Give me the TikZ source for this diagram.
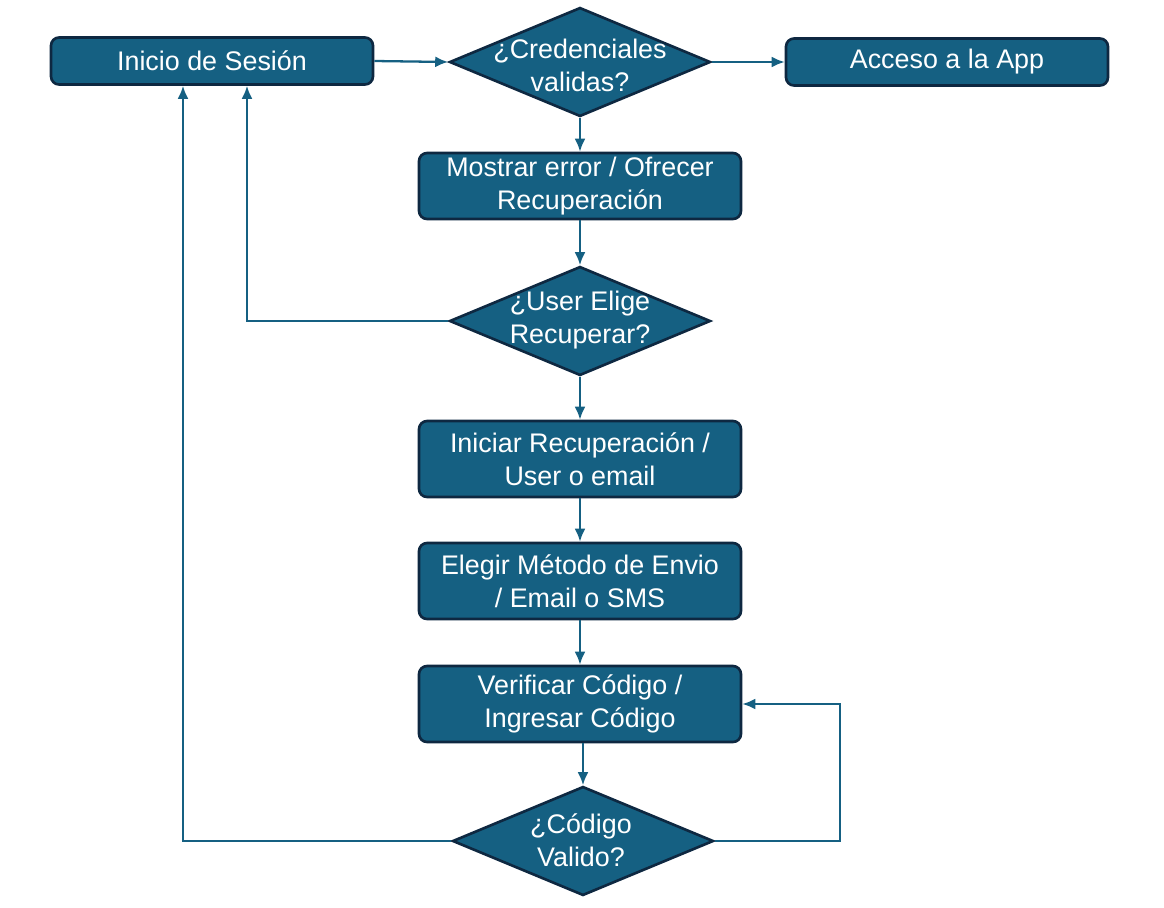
\documentclass[tikz,border=0pt]{standalone}
\usepackage{fontspec}
\setmainfont{Liberation Sans}
\usetikzlibrary{shapes.geometric,arrows.meta}
\definecolor{fillblue}{HTML}{156082}
\definecolor{edgeblue}{HTML}{0E2841}
\begin{document}
\begin{tikzpicture}[x=0.02cm,y=-0.02cm,
  box/.style={draw=edgeblue,fill=fillblue,line width=1.5pt,rounded corners=0.16cm,
    text=white,align=center,minimum width=6.44cm,inner sep=0pt,
    font=\fontsize{15.3}{18.7}\selectfont},
  decision/.style={draw=edgeblue,fill=fillblue,line width=1.5pt,diamond,
    minimum width=5.22cm,minimum height=2.18cm,inner sep=0pt},
  dtext/.style={text=white,align=center,font=\fontsize{15.3}{18.7}\selectfont},
  flow/.style={draw=fillblue,line width=1.3pt,-{Latex[length=2.6mm,width=2.2mm]}}]
\useasboundingbox (0,0) rectangle (1164,907);
% nodes
\node[box,minimum height=0.94cm] (inicio) at (212,61) {Inicio de Sesión};
\node[decision] (cred) at (580,62) {};
\node[dtext] (credtxt) at (580,65) {¿Credenciales\\validas?};
\node[box,minimum height=0.94cm] (acceso) at (947,62) {Acceso a la App};
\node[box,minimum height=1.32cm] (mostrar) at (580,186) {Mostrar error / Ofrecer\\Recuperación};
\node[decision] (elige) at (580,321) {};
\node[dtext] (eligetxt) at (580,320) {¿User Elige\\Recuperar?};
\node[box,minimum height=1.52cm] (iniciar) at (580,459) {Iniciar Recuperación /\\User o email};
\node[box,minimum height=1.52cm] (elegir) at (580,581) {Elegir Método de Envio\\/ Email o SMS};
\node[box,minimum height=1.52cm] (verificar) at (580,704) {Verificar Código /\\Ingresar Código};
\node[decision] (codigo) at (583,841) {};
\node[dtext] (codigotxt) at (581,840) {¿Código\\Valido?};
% connectors
\draw[flow] (inicio.east) -- (cred.west);
\draw[flow] (cred.east) -- (acceso.west);
\draw[flow] (cred.south) -- (mostrar.north);
\draw[flow] (mostrar.south) -- (elige.north);
\draw[flow] (elige.west) -| ([xshift=0.7cm]inicio.south);
\draw[flow] (elige.south) -- (iniciar.north);
\draw[flow] (iniciar) -- (elegir);
\draw[flow] (elegir) -- (verificar);
\draw[flow] (codigo.north |- verificar.south) -- (codigo.north);
\draw[flow] (codigo.west) -| ([xshift=-0.58cm]inicio.south);
\draw[flow] (codigo.east) -- ++(125,0) |- (verificar.east);
\end{tikzpicture}
\end{document}
